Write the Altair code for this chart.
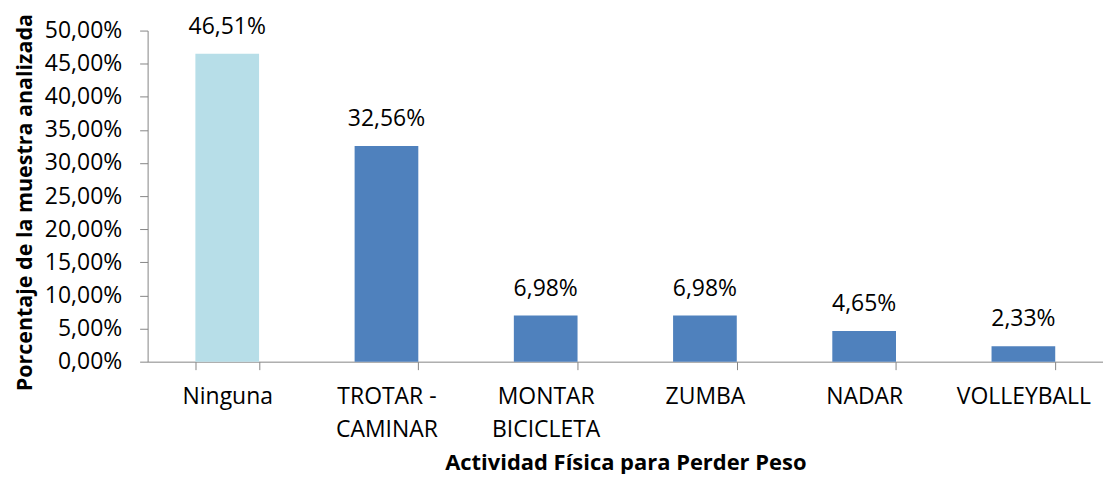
import altair as alt
import pandas as pd

categories = ["Ninguna", "TROTAR - CAMINAR", "MONTAR BICICLETA", "ZUMBA", "NADAR", "VOLLEYBALL"]
label_lines = [["Ninguna"], ["TROTAR -", "CAMINAR"], ["MONTAR", "BICICLETA"], ["ZUMBA"], ["NADAR"], ["VOLLEYBALL"]]
values = [0.4651, 0.3256, 0.0698, 0.0698, 0.0465, 0.0233]
colors = ["#B7DEE8", "#4F81BD", "#4F81BD", "#4F81BD", "#4F81BD", "#4F81BD"]
y_ticks = [0, 0.05, 0.10, 0.15, 0.20, 0.25, 0.30, 0.35, 0.40, 0.45, 0.50]

df = pd.DataFrame({"cat": categories, "val": values, "color": colors})

label_expr = ""
for c, lines in zip(categories, label_lines):
    arr = "[" + ",".join("'" + l + "'" for l in lines) + "]"
    label_expr += f"datum.label == '{c}' ? {arr} : "
label_expr += "datum.label"

FONT = "Open Sans"
AX = "#868686"

x = alt.X("cat:N", sort=categories,
          scale=alt.Scale(paddingInner=0.6, paddingOuter=0.3),
          axis=alt.Axis(title="Actividad Física para Perder Peso", labelAngle=0,
                        labelExpr=label_expr, tickBand="extent",
                        domainColor=AX, tickColor=AX, tickSize=8,
                        labelFontSize=23, labelColor="#000000", labelPadding=16,
                        labelLineHeight=33, labelOverlap=False,
                        titleFontSize=22, titleFontWeight="bold", titlePadding=11,
                        titleColor="#000000", labelFont=FONT, titleFont=FONT))

y = alt.Y("val:Q", scale=alt.Scale(domain=[0, 0.5], nice=False),
          axis=alt.Axis(title="Porcentaje de la muestra analizada", values=y_ticks,
                        labelExpr="replace(format(datum.value, '.2%'), '.', ',')",
                        grid=False, domainColor=AX, tickColor=AX, tickSize=8,
                        labelFontSize=23, labelColor="#000000", labelPadding=18,
                        labelOverlap=False, titleY=172,
                        titleFontSize=21.5, titleFontWeight="bold", titlePadding=8,
                        titleColor="#000000", labelFont=FONT, titleFont=FONT))

bars = alt.Chart(df).mark_bar().encode(
    x=x,
    y=y,
    color=alt.Color("color:N", scale=None),
)

text = alt.Chart(df).transform_calculate(
    lbl="replace(format(datum.val, '.2%'), '.', ',')"
).mark_text(dy=-27, fontSize=23, font=FONT, color="#000000").encode(
    x=x,
    y=y,
    text="lbl:N",
)

chart = (bars + text).properties(
    width=958, height=332,
    padding={"top": 4, "left": 6, "right": 0, "bottom": 0},
).configure(background="white").configure_view(stroke=None)

chart.save("out.html", embed_options={"renderer": "svg", "actions": False})
